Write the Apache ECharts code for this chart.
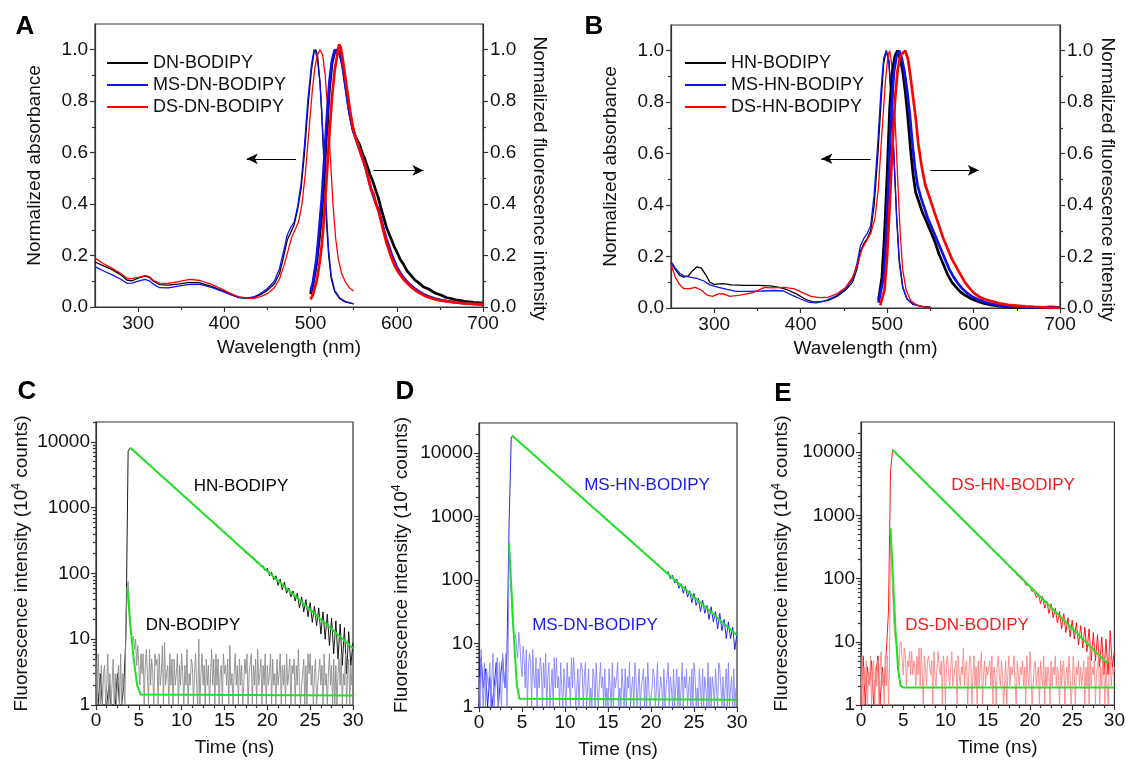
<!DOCTYPE html>
<html>
<head>
<meta charset="utf-8">
<script src="https://cdn.jsdelivr.net/npm/echarts@6.0.0/dist/echarts.min.js"></script>
<style>
  html, body { margin: 0; padding: 0; background: #fff; }
  #chart { width: 1128px; height: 760px; }
</style>
</head>
<body>
<div id="chart"></div>
<script>
// ---- panel A : absorbance (thin) and fluorescence (thick), [wavelength nm, normalized value]
var absDN = [[250,0.175],[260,0.16],[270,0.145],[280,0.125],[287,0.105],[293,0.102],[300,0.112],[308,0.12],[313,0.115],[318,0.1],[325,0.087],[335,0.085],[348,0.09],[360,0.096],[372,0.094],[385,0.08],[397,0.065],[407,0.05],[416,0.038],[425,0.034],[434,0.037],[442,0.048],[450,0.065],[458,0.09],[464,0.13],[469,0.2],[473,0.26],[477,0.29],[481,0.32],[485,0.38],[489,0.46],[493,0.6],[497,0.78],[501,0.92],[504,0.99],[506,1.0],[508,0.98],[511,0.87],[513,0.75],[515,0.6],[517,0.44],[519,0.3],[521,0.2],[524,0.11],[528,0.06],[534,0.032],[540,0.02],[550,0.012]];
var absMSDN = [[250,0.157],[260,0.14],[270,0.125],[280,0.108],[287,0.092],[293,0.093],[300,0.101],[308,0.107],[313,0.102],[318,0.088],[325,0.075],[335,0.074],[348,0.082],[360,0.088],[372,0.088],[385,0.076],[397,0.062],[407,0.048],[416,0.037],[425,0.034],[434,0.039],[442,0.052],[450,0.072],[458,0.1],[464,0.15],[469,0.22],[473,0.28],[477,0.31],[481,0.33],[485,0.39],[489,0.48],[493,0.63],[497,0.81],[501,0.94],[504,1.0],[506,0.99],[508,0.96],[511,0.87],[513,0.76],[515,0.62],[517,0.47],[519,0.33],[521,0.22],[524,0.12],[528,0.065],[534,0.035],[540,0.022],[550,0.012]];
var absDSDN = [[250,0.19],[260,0.168],[270,0.15],[280,0.13],[287,0.112],[293,0.11],[300,0.115],[308,0.122],[313,0.118],[318,0.103],[325,0.093],[335,0.092],[348,0.1],[360,0.107],[372,0.103],[385,0.088],[397,0.07],[407,0.053],[416,0.04],[425,0.035],[434,0.034],[442,0.04],[450,0.052],[458,0.075],[464,0.11],[469,0.16],[474,0.22],[478,0.27],[482,0.3],[486,0.33],[490,0.4],[494,0.52],[498,0.68],[502,0.84],[505,0.93],[508,0.98],[511,1.0],[514,0.98],[517,0.9],[520,0.76],[523,0.58],[526,0.4],[529,0.27],[532,0.19],[536,0.13],[540,0.1],[545,0.075],[550,0.062]];
var flDN = [[500,0.05],[503,0.09],[507,0.17],[510,0.26],[513,0.36],[516,0.52],[519,0.7],[522,0.85],[525,0.95],[528,0.99],[531,1.0],[534,0.99],[536,0.97],[539,0.9],[542,0.83],[545,0.76],[548,0.71],[551,0.67],[554,0.65],[557,0.63],[560,0.6],[563,0.575],[566,0.545],[569,0.515],[572,0.49],[575,0.46],[579,0.42],[582,0.38],[585,0.345],[588,0.31],[591,0.285],[594,0.26],[597,0.235],[600,0.215],[604,0.185],[608,0.165],[612,0.14],[616,0.125],[621,0.105],[626,0.093],[631,0.078],[637,0.07],[644,0.055],[651,0.047],[658,0.036],[663,0.033],[668,0.028],[673,0.026],[678,0.022],[684,0.02],[689,0.018],[694,0.017],[700,0.015]];
var flMSDN = [[500,0.06],[503,0.1],[507,0.19],[510,0.3],[513,0.42],[516,0.58],[519,0.74],[522,0.88],[525,0.96],[528,1.0],[531,0.99],[534,0.98],[537,0.94],[540,0.87],[543,0.8],[546,0.74],[549,0.69],[552,0.66],[555,0.63],[558,0.6],[561,0.57],[564,0.54],[567,0.5],[570,0.46],[573,0.43],[576,0.4],[579,0.38],[582,0.34],[585,0.3],[588,0.265],[591,0.235],[594,0.205],[597,0.18],[600,0.155],[604,0.133],[608,0.114],[612,0.098],[616,0.085],[621,0.071],[626,0.06],[631,0.05],[637,0.041],[644,0.033],[651,0.027],[658,0.023],[668,0.018],[678,0.015],[689,0.012],[700,0.01]];
var flDSDN = [[500,0.03],[503,0.05],[507,0.1],[510,0.16],[513,0.24],[516,0.36],[519,0.52],[522,0.68],[525,0.82],[528,0.92],[531,0.98],[533,1.02],[535,1.01],[537,0.97],[540,0.9],[543,0.83],[546,0.76],[549,0.7],[552,0.66],[555,0.63],[558,0.6],[561,0.57],[564,0.54],[567,0.5],[570,0.46],[573,0.44],[576,0.4],[579,0.37],[582,0.33],[585,0.29],[588,0.25],[591,0.22],[594,0.19],[597,0.165],[600,0.145],[604,0.125],[608,0.107],[612,0.093],[616,0.08],[621,0.066],[626,0.055],[631,0.046],[637,0.037],[644,0.03],[651,0.025],[658,0.022],[668,0.018],[678,0.014],[689,0.012],[700,0.01]];

// ---- panel B
var absHN = [[250,0.175],[255,0.15],[260,0.127],[265,0.12],[270,0.125],[275,0.145],[280,0.16],[285,0.155],[290,0.13],[295,0.1],[300,0.092],[310,0.095],[320,0.09],[335,0.088],[350,0.088],[365,0.086],[375,0.08],[385,0.07],[395,0.055],[405,0.035],[413,0.025],[422,0.024],[432,0.03],[442,0.045],[452,0.07],[460,0.1],[465,0.15],[469,0.22],[473,0.25],[477,0.27],[481,0.3],[485,0.4],[489,0.58],[493,0.8],[496,0.95],[499,1.0],[502,0.96],[505,0.8],[508,0.58],[511,0.35],[514,0.18],[518,0.08],[523,0.035],[530,0.015],[540,0.006],[550,0.004]];
var absMSHN = [[250,0.18],[255,0.155],[260,0.135],[265,0.125],[272,0.12],[280,0.115],[288,0.105],[295,0.09],[305,0.08],[315,0.072],[325,0.065],[340,0.065],[355,0.066],[370,0.068],[380,0.066],[390,0.05],[400,0.035],[410,0.022],[418,0.02],[428,0.028],[440,0.045],[452,0.075],[460,0.11],[465,0.17],[469,0.24],[473,0.27],[477,0.29],[481,0.32],[485,0.44],[489,0.63],[493,0.85],[496,0.97],[499,1.0],[502,0.96],[505,0.8],[508,0.58],[511,0.36],[514,0.19],[518,0.085],[523,0.035],[530,0.014],[540,0.005],[550,0.003]];
var absDSHN = [[250,0.17],[255,0.12],[260,0.09],[265,0.075],[272,0.075],[278,0.08],[285,0.07],[292,0.05],[298,0.045],[305,0.055],[310,0.056],[318,0.045],[330,0.05],[345,0.06],[358,0.08],[365,0.078],[380,0.08],[392,0.075],[402,0.06],[412,0.045],[422,0.04],[432,0.042],[442,0.055],[452,0.08],[460,0.12],[466,0.17],[471,0.23],[476,0.26],[481,0.29],[486,0.35],[490,0.47],[494,0.68],[498,0.88],[501,0.98],[503,1.0],[506,0.93],[509,0.75],[512,0.52],[515,0.3],[518,0.15],[522,0.07],[527,0.03],[535,0.01],[545,0.003],[550,0.002]];
var flHN = [[490,0.03],[494,0.12],[497,0.29],[500,0.52],[503,0.78],[506,0.92],[509,0.98],[512,1.0],[515,0.97],[518,0.92],[521,0.84],[524,0.74],[527,0.62],[530,0.52],[533,0.45],[537,0.41],[541,0.37],[545,0.34],[550,0.3],[555,0.26],[560,0.21],[565,0.17],[570,0.13],[575,0.1],[580,0.08],[585,0.062],[590,0.05],[595,0.04],[600,0.032],[610,0.02],[620,0.012],[630,0.007],[640,0.004],[650,0.002],[660,0.001],[680,0],[700,0]];
var flMSHN = [[490,0.02],[496,0.12],[499,0.29],[502,0.52],[505,0.78],[508,0.92],[511,0.98],[514,1.0],[517,0.97],[520,0.92],[523,0.85],[526,0.76],[529,0.65],[532,0.55],[535,0.48],[539,0.43],[543,0.39],[547,0.35],[552,0.31],[557,0.27],[562,0.23],[567,0.19],[572,0.15],[577,0.12],[582,0.095],[587,0.075],[592,0.06],[598,0.045],[604,0.035],[612,0.024],[620,0.016],[630,0.01],[640,0.006],[650,0.004],[660,0.002],[680,0.003],[690,0.004],[700,0.002]];
var flDSHN = [[492,0.01],[497,0.07],[500,0.2],[503,0.4],[506,0.62],[509,0.8],[512,0.92],[515,0.98],[518,0.99],[521,1.0],[524,0.97],[527,0.9],[530,0.82],[533,0.74],[536,0.64],[540,0.55],[544,0.48],[548,0.44],[552,0.4],[556,0.36],[560,0.32],[565,0.27],[570,0.23],[575,0.19],[580,0.16],[585,0.13],[590,0.1],[595,0.078],[600,0.06],[606,0.045],[612,0.035],[620,0.027],[630,0.018],[640,0.012],[650,0.009],[660,0.006],[670,0.004],[685,0.002],[700,0.001]];

// arrows: [from nm, to nm, level]
var arrowsA = [[483, 426, 0.576], [573, 631, 0.531]];
var arrowsB = [[481, 424, 0.58], [550, 606, 0.535]];

// ---- panels C-E : decay curves (counts, 10^4)
// long-lived (HN) curves, 0.25 ns channels
var decayTime = [
  0,0.25,0.5,0.75, 1,1.25,1.5,1.75, 2,2.25,2.5,2.75, 3,3.25,3.5,3.75, 4,4.25,4.5,4.75,
  5,5.25,5.5,5.75, 6,6.25,6.5,6.75, 7,7.25,7.5,7.75, 8,8.25,8.5,8.75, 9,9.25,9.5,9.75,
  10,10.25,10.5,10.75, 11,11.25,11.5,11.75, 12,12.25,12.5,12.75, 13,13.25,13.5,13.75, 14,14.25,14.5,14.75,
  15,15.25,15.5,15.75, 16,16.25,16.5,16.75, 17,17.25,17.5,17.75, 18,18.25,18.5,18.75, 19,19.25,19.5,19.75,
  20,20.25,20.5,20.75, 21,21.25,21.5,21.75, 22,22.25,22.5,22.75, 23,23.25,23.5,23.75, 24,24.25,24.5,24.75,
  25,25.25,25.5,25.75, 26,26.25,26.5,26.75, 27,27.25,27.5,27.75, 28,28.25,28.5,28.75, 29,29.25,29.5,29.75,
  30
];
var hnC = [
  1,1,3,1, 1,1,2,1, 1,1,3,1, 1,2,12,7200, 8100,7560,7090,6610,
  6190,5780,5410,5050, 4720,4420,4120,3860, 3610,3370,3150,2950, 2750,2580,2400,2260, 2100,1970,1830,1730,
  1600,1510,1400,1320, 1230,1140,1080,1000, 940,870,825,760, 715,675,620,590, 545,515,470,450,
  420,388,368,338, 322,295,282,255, 250,230,205,204, 180,178,168,146, 148,128,130,110,
  120,92,104,80, 92,66,82,56, 74,50,60,44, 54,38,50,30, 44,26,40,22,
  36,18,32,16, 30,12,26,10, 24,8,21,6, 19,5,17,4, 15,3,13,4,
  9
];
var hnD = [
  1,6,2,4, 1,3,1,2, 5,1,3,6, 2,7,800,18000, 18200,17000,15850,14800,
  13800,12900,12000,11200, 10460,9760,9100,8500, 7930,7400,6900,6440, 6010,5610,5230,4880, 4560,4250,3970,3700,
  3460,3220,3010,2800, 2620,2440,2280,2130, 1990,1850,1730,1610, 1510,1400,1310,1220, 1140,1060,995,920,
  880,810,760,712, 660,625,575,540, 510,470,445,405, 385,352,336,300, 292,268,250,232,
  220,205,186,178, 170,150,146,128, 136,104,120,90, 104,74,88,62, 80,54,68,44,
  62,40,52,32, 48,30,40,24, 38,22,32,17, 30,16,24,12, 22,12,18,8,
  15
];
var hnE = [
  1,6,1,4, 2,5,1,3, 6,1,4,2, 7,30,5000,11000, 10000,9260,8580,7950,
  7390,6840,6340,5870, 5440,5040,4670,4320, 4010,3710,3440,3190, 2950,2730,2530,2350, 2170,2010,1860,1730,
  1600,1480,1370,1270, 1180,1090,1010,937, 868,804,745,690, 639,592,548,508, 471,436,404,374,
  347,318,300,272, 260,238,218,210, 186,178,156,150, 134,130,112,108, 96,98,80,78,
  78,62,66,50, 58,40,52,34, 44,28,40,24, 34,20,30,16, 28,14,24,12,
  22,11,20,9, 18,8,17,7, 16,5,14,5, 13,4,12,3, 11,3,15,4,
  7
];
// short-lived (DN) curves, 0.125 ns channels
var decayTimeFine = [
  0,0.125,0.25,0.375,0.5,0.625,0.75,0.875, 1,1.125,1.25,1.375,1.5,1.625,1.75,1.875,
  2,2.125,2.25,2.375,2.5,2.625,2.75,2.875, 3,3.125,3.25,3.375,3.5,3.625,3.75,3.875,
  4,4.125,4.25,4.375,4.5,4.625,4.75,4.875, 5,5.125,5.25,5.375,5.5,5.625,5.75,5.875,
  6,6.125,6.25,6.375,6.5,6.625,6.75,6.875, 7,7.125,7.25,7.375,7.5,7.625,7.75,7.875,
  8,8.125,8.25,8.375,8.5,8.625,8.75,8.875, 9,9.125,9.25,9.375,9.5,9.625,9.75,9.875,
  10,10.125,10.25,10.375,10.5,10.625,10.75,10.875, 11,11.125,11.25,11.375,11.5,11.625,11.75,11.875,
  12,12.125,12.25,12.375,12.5,12.625,12.75,12.875, 13,13.125,13.25,13.375,13.5,13.625,13.75,13.875,
  14,14.125,14.25,14.375,14.5,14.625,14.75,14.875, 15,15.125,15.25,15.375,15.5,15.625,15.75,15.875,
  16,16.125,16.25,16.375,16.5,16.625,16.75,16.875, 17,17.125,17.25,17.375,17.5,17.625,17.75,17.875,
  18,18.125,18.25,18.375,18.5,18.625,18.75,18.875, 19,19.125,19.25,19.375,19.5,19.625,19.75,19.875,
  20,20.125,20.25,20.375,20.5,20.625,20.75,20.875, 21,21.125,21.25,21.375,21.5,21.625,21.75,21.875,
  22,22.125,22.25,22.375,22.5,22.625,22.75,22.875, 23,23.125,23.25,23.375,23.5,23.625,23.75,23.875,
  24,24.125,24.25,24.375,24.5,24.625,24.75,24.875, 25,25.125,25.25,25.375,25.5,25.625,25.75,25.875,
  26,26.125,26.25,26.375,26.5,26.625,26.75,26.875, 27,27.125,27.25,27.375,27.5,27.625,27.75,27.875,
  28,28.125,28.25,28.375,28.5,28.625,28.75,28.875, 29,29.125,29.25,29.375,29.5,29.625,29.75,29.875,
  30
];
var dnC = [
  5,1,6,2,1,4,1,3, 4,1,2,6,1,3,1,2, 5,1,3,1,2,4,1,6, 1,3,2,1,20,60,75,40,
  18,12,9,11,7,10,4,8, 8,2,6,3,6,1,4,7, 3,1,7,2,5,3,1,6, 4,5,1,6,2,3,8,1,
  9,2,3,4,1,6,2,5, 1,5,2,3,6,1,4,2, 6,3,1,4,2,7,1,3, 2,5,4,1,3,6,2,1,
  10,1,3,6,2,4,1,5, 2,4,1,3,7,2,5,1, 6,2,5,1,3,4,1,6, 3,4,2,5,1,8,2,3,
  1,3,6,2,4,1,5,2, 4,1,2,5,3,6,1,3, 3,6,1,4,2,5,1,7, 2,3,5,1,4,2,6,1,
  4,2,3,6,1,5,2,3, 1,5,2,3,6,1,4,2, 4,1,6,2,3,5,1,4, 3,5,1,4,2,7,2,1,
  2,3,5,1,4,1,6,3, 6,2,4,1,3,5,1,2, 3,5,2,4,1,6,2,3, 1,3,6,2,4,1,5,1,
  4,1,3,5,2,6,1,3, 2,6,1,3,5,1,4,2,
  4
];
var dnD = [
  3,1,8,2,1,5,1,4, 4,2,5,1,3,7,1,2, 3,6,1,5,2,1,7,3, 2,7,1,4,400,150,60,25,
  15,12,14,8,6,15,10,5, 3,9,6,2,8,1,4,7, 5,1,8,3,2,6,1,4, 2,6,4,1,5,2,7,1,
  3,5,1,2,4,1,6,2, 6,2,3,1,5,2,1,4, 4,1,5,2,3,1,6,2, 6,3,1,2,4,1,3,5,
  4,1,3,5,1,2,4,1, 2,1,4,3,1,5,2,1, 1,5,2,3,1,4,1,2, 1,4,2,1,5,1,3,2,
  3,5,1,2,1,4,2,1, 4,1,3,2,5,1,2,3, 1,5,3,1,2,4,1,2, 2,4,1,3,1,5,2,1,
  1,2,4,3,1,2,5,1, 1,3,2,1,4,1,2,3, 5,1,3,2,1,4,1,2, 4,1,3,1,2,5,1,3,
  2,4,1,2,3,1,4,1, 5,3,1,2,1,4,2,1, 4,1,3,2,1,5,1,3, 1,3,2,1,4,2,1,5,
  4,2,1,3,1,2,4,1, 5,1,2,3,1,4,1,2,
  2
];
var dnE = [
  1,6,1,4,2,5,1,3, 2,6,1,3,5,1,4,2, 5,1,4,7,2,3,1,6, 2,6,1,4,620,200,60,20,
  12,10,9,6,4,9,10,5, 3,8,6,2,5,4,7,3, 7,3,5,4,2,6,3,8, 2,8,3,1,6,4,2,5,
  6,4,3,5,1,7,3,2, 2,7,4,3,5,1,6,4, 1,5,6,3,2,4,7,2, 2,4,5,1,6,3,2,4,
  3,8,2,4,5,1,3,6, 5,1,3,6,2,4,1,5, 2,4,7,1,3,5,2,4, 3,4,5,2,6,1,4,3,
  1,4,6,3,2,5,3,1, 2,5,1,3,6,2,4,3, 4,6,2,1,5,3,2,4, 3,5,2,4,1,6,3,2,
  7,3,1,2,4,5,2,3, 4,1,5,3,2,6,1,4, 2,4,3,1,5,2,4,3, 6,2,4,3,1,5,2,4,
  5,1,3,4,2,6,3,1, 2,6,3,1,4,3,5,2, 4,2,3,5,1,4,2,6, 1,8,2,4,3,5,1,3,
  3,6,1,4,2,5,3,1, 5,2,1,3,6,2,4,3,
  4
];
// fitted curves [ns, counts]
var fitHNC = [[4.0,8100],[30,7.3]];
var fitDNC = [[3.66,60],[4.0,16],[4.4,5],[4.8,2],[5.2,1.45],[30,1.4]];
var fitHND = [[3.84,19000],[30,13.5]];
var fitDND = [[3.5,380],[3.8,60],[4.1,10],[4.4,2.2],[4.7,1.35],[30,1.3]];
var fitHNE = [[3.69,11000],[29.2,4.5]];
var fitDNE = [[3.5,620],[3.8,90],[4.1,14],[4.4,3.5],[4.7,2.0],[5.0,1.9],[30,1.9]];

// ---- tick values
var wlTicks = [300, 400, 500, 600, 700];
var wlMinor = [350, 450, 550, 650];
var normTicks = [0, 0.2, 0.4, 0.6, 0.8, 1.0];
var normMinor = [0.1, 0.3, 0.5, 0.7, 0.9];
var timeTicks = [0, 5, 10, 15, 20, 25, 30];
var timeMinor = [1.25, 2.5, 3.75, 6.25, 7.5, 8.75, 11.25, 12.5, 13.75, 16.25, 17.5, 18.75, 21.25, 22.5, 23.75, 26.25, 27.5, 28.75];
var logTicks = [1, 10, 100, 1000, 10000];
var logMinor = [2,3,4,5,6,7,8,9, 20,30,40,50,60,70,80,90, 200,300,400,500,600,700,800,900, 2000,3000,4000,5000,6000,7000,8000,9000, 20000];

var FONT = "'Liberation Sans', Arial, Helvetica, sans-serif";
var AX = '#333';
var TXT = '#111';

function axis(o) {
  var a = {
    type: o.type || 'value',
    gridIndex: o.grid,
    position: o.position,
    min: o.min,
    max: o.max,
    name: o.name || '',
    nameLocation: 'middle',
    nameGap: o.nameGap || 0,
    nameTextStyle: Object.assign({ fontSize: 19, fontFamily: FONT, color: TXT }, o.nameStyle || {}),
    axisLine: { show: !o.minor, lineStyle: { color: AX, width: 1.2 } },
    axisTick: { show: true, inside: false, length: o.minor ? 3 : 5, customValues: o.ticks, lineStyle: { color: AX, width: 1.2 } },
    axisLabel: { show: !o.minor, customValues: o.ticks, margin: o.margin || 7, fontSize: 19, fontFamily: FONT, color: TXT, formatter: o.fmt },
    splitLine: { show: false },
    silent: true
  };
  if (o.type === 'log') a.logBase = 10;
  if (o.nameRotate !== undefined) a.nameRotate = o.nameRotate;
  return a;
}
var f1 = function (v) { return (Math.round(v * 10) / 10).toFixed(1); };
var fInt = function (v) { return String(Math.round(v)); };

var grids = [
  { left: 95, top: 24, width: 388, height: 283 },
  { left: 671, top: 25, width: 389, height: 283 },
  { left: 96, top: 422, width: 257, height: 283 },
  { left: 479, top: 423, width: 258, height: 284 },
  { left: 861, top: 422, width: 257, height: 283 }
].map(function (g) {
  return Object.assign(g, { show: true, borderColor: AX, borderWidth: 1.2, backgroundColor: 'transparent' });
});

var xAxes = [], yAxes = [];
// spectra panels (grid 0, 1)
[0, 1].forEach(function (g) {
  xAxes.push(axis({ grid: g, position: 'bottom', min: 250, max: 700, ticks: wlTicks, fmt: fInt, name: 'Wavelength (nm)', nameGap: 31, margin: 7 }));
  xAxes.push(axis({ grid: g, position: 'bottom', min: 250, max: 700, ticks: wlMinor, minor: true }));
  yAxes.push(axis({ grid: g, position: 'left', min: 0, max: 1.1, ticks: normTicks, fmt: f1, name: 'Normalized absorbance', nameGap: 51 }));
  yAxes.push(axis({ grid: g, position: 'left', min: 0, max: 1.1, ticks: normMinor, minor: true }));
  yAxes.push(axis({ grid: g, position: 'right', min: 0, max: 1.1, ticks: normTicks, fmt: f1, name: 'Normalized fluorescence intensity', nameGap: g === 0 ? 47 : 38, nameRotate: -90, nameStyle: { padding: [0, 0, 0, 26] } }));
  yAxes.push(axis({ grid: g, position: 'right', min: 0, max: 1.1, ticks: normMinor, minor: true }));
});
// decay panels (grid 2, 3, 4)
var logMax = [20000, 30000, 30000];
var yNameGap = [63, 66, 68];
[2, 3, 4].forEach(function (g, k) {
  xAxes.push(axis({ grid: g, position: 'bottom', min: 0, max: 30, ticks: timeTicks, fmt: fInt, name: 'Time (ns)', nameGap: 33, margin: 6, nameStyle: { padding: [0, 0, 0, 20] } }));
  xAxes.push(axis({ grid: g, position: 'bottom', min: 0, max: 30, ticks: timeMinor, minor: true }));
  yAxes.push(axis({ grid: g, type: 'log', position: 'left', min: 1, max: logMax[k], ticks: logTicks, fmt: fInt, margin: 6,
    name: '{t|Fluorescence intensity (10}{s|4}{t| counts)}', nameGap: yNameGap[k],
    nameStyle: { rich: { t: { fontSize: 19, fontFamily: FONT, color: TXT, lineHeight: 22 }, s: { fontSize: 12, fontFamily: FONT, color: TXT, lineHeight: 22, verticalAlign: 'top' } } } }));
  yAxes.push(axis({ grid: g, type: 'log', position: 'left', min: 1, max: logMax[k], ticks: logMinor, minor: true }));
});

function line(name, data, xi, yi, color, width, z) {
  return {
    type: 'line', name: name, data: data, xAxisIndex: xi, yAxisIndex: yi,
    symbol: 'none', showSymbol: false, smooth: false, animation: false, silent: true, z: z || 2,
    lineStyle: { color: color, width: width }, itemStyle: { color: color }
  };
}
function pairT(times, vals) { return times.map(function (t, i) { return [t, vals[i]]; }); }
function arrows(list) {
  return {
    silent: true, animation: false, symbol: ['none', 'arrow'], symbolSize: [8, 11],
    lineStyle: { color: '#000', width: 1.2, type: 'solid' }, label: { show: false },
    data: list.map(function (a) { return [{ coord: [a[0], a[2]] }, { coord: [a[1], a[2]] }]; })
  };
}

var THIN = 1.3, THICK = 2.7, NOISE = 0.9;
var BLUE = '#1010f0', RED = '#ff0000', GREEN = '#22e022';
var series = [
  // A
  line('DN-BODIPY', absDN, 0, 0, '#000', THIN),
  line('MS-DN-BODIPY', absMSDN, 0, 0, BLUE, THIN),
  line('DS-DN-BODIPY', absDSDN, 0, 0, RED, THIN),
  line('DN-BODIPY', flDN, 0, 2, '#000', THICK),
  line('MS-DN-BODIPY', flMSDN, 0, 2, BLUE, THICK),
  line('DS-DN-BODIPY', flDSDN, 0, 2, RED, THICK),
  // B
  line('HN-BODIPY', absHN, 2, 4, '#000', THIN),
  line('MS-HN-BODIPY', absMSHN, 2, 4, BLUE, THIN),
  line('DS-HN-BODIPY', absDSHN, 2, 4, RED, THIN),
  line('HN-BODIPY', flHN, 2, 6, '#000', THICK),
  line('MS-HN-BODIPY', flMSHN, 2, 6, BLUE, THICK),
  line('DS-HN-BODIPY', flDSHN, 2, 6, RED, THICK),
  // C
  line('C HN', pairT(decayTime, hnC), 4, 8, '#000', NOISE),
  line('C DN', pairT(decayTimeFine, dnC), 4, 8, '#8c8c8c', NOISE),
  line('C fit HN', fitHNC, 4, 8, GREEN, 2, 3),
  line('C fit DN', fitDNC, 4, 8, GREEN, 2, 3),
  // D
  line('D HN', pairT(decayTime, hnD), 6, 10, '#1010f0', NOISE),
  line('D DN', pairT(decayTimeFine, dnD), 6, 10, '#8484ff', NOISE),
  line('D fit HN', fitHND, 6, 10, GREEN, 2, 3),
  line('D fit DN', fitDND, 6, 10, GREEN, 2, 3),
  // E
  line('E HN', pairT(decayTime, hnE), 8, 12, '#ff0000', NOISE),
  line('E DN', pairT(decayTimeFine, dnE), 8, 12, '#ff8484', NOISE),
  line('E fit HN', fitHNE, 8, 12, GREEN, 2, 3),
  line('E fit DN', fitDNE, 8, 12, GREEN, 2, 3)
];
series[0].markLine = arrows(arrowsA);
series[6].markLine = arrows(arrowsB);

function legend(names, left) {
  return {
    data: names, orient: 'vertical', left: left, top: 54, itemWidth: 41, itemHeight: 2, itemGap: 4,
    icon: 'rect', selectedMode: false, padding: 0,
    textStyle: { fontSize: 18, fontFamily: FONT, color: TXT, lineHeight: 18 }
  };
}

function label(text, x, y, size, color, bold) {
  return {
    type: 'text', x: x, y: y, silent: true,
    style: { text: text, align: 'center', verticalAlign: 'middle', fontSize: size, fontWeight: bold ? 'bold' : 'normal', fontFamily: FONT, fill: color }
  };
}

var option = {
  backgroundColor: '#fff',
  animation: false,
  grid: grids,
  xAxis: xAxes,
  yAxis: yAxes,
  legend: [
    legend(['DN-BODIPY', 'MS-DN-BODIPY', 'DS-DN-BODIPY'], 107),
    legend(['HN-BODIPY', 'MS-HN-BODIPY', 'DS-HN-BODIPY'], 685)
  ],
  series: series,
  graphic: [
    label('A', 25, 27, 26, '#000', true),
    label('B', 594, 27, 26, '#000', true),
    label('C', 27, 392, 26, '#000', true),
    label('D', 405, 392, 26, '#000', true),
    label('E', 783, 394, 26, '#000', true),
    label('HN-BODIPY', 241, 486, 17, '#000'),
    label('DN-BODIPY', 193, 625, 17, '#000'),
    label('MS-HN-BODIPY', 647, 485, 17, '#1a1aee'),
    label('MS-DN-BODIPY', 595, 625, 17, '#1a1aee'),
    label('DS-HN-BODIPY', 1013, 485, 17, '#ff1a1a'),
    label('DS-DN-BODIPY', 967, 625, 17, '#ff1a1a')
  ]
};

var chart = echarts.init(document.getElementById('chart'), null, { renderer: 'canvas' });
chart.setOption(option);
</script>
</body>
</html>
